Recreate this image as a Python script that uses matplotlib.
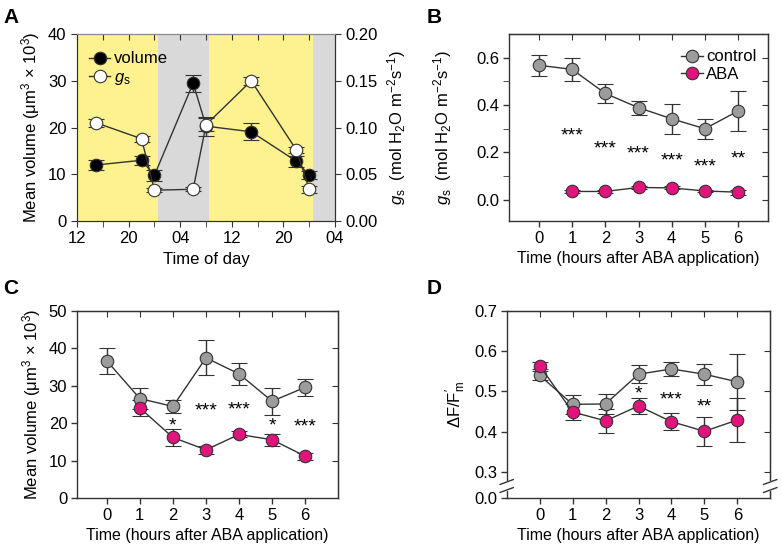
import matplotlib
matplotlib.use("Agg")
import matplotlib.pyplot as plt
import matplotlib.transforms as mtransforms
from matplotlib.lines import Line2D

plt.rcParams["font.family"] = ["Liberation Sans", "DejaVu Sans"]
plt.rcParams["font.size"] = 12
plt.rcParams["mathtext.fontset"] = "custom"
plt.rcParams["mathtext.rm"] = "Liberation Sans"
plt.rcParams["mathtext.it"] = "Liberation Sans:italic"
plt.rcParams["mathtext.default"] = "regular"

# --- A: dnevni tok ---
hrs_a = [15, 22, 24, 30, 32, 39, 46, 48]
vol_a = [12.0, 13.0, 9.8, 29.5, 20.3, 19.1, 12.8, 9.8]
vol_a_err = [1.0, 1.0, 1.2, 1.8, 2.0, 1.8, 1.2, 0.8]
gs_a = [0.105, 0.088, 0.033, 0.034, 0.103, 0.150, 0.076, 0.034]
gs_a_err = [0.004, 0.003, 0.002, 0.002, 0.007, 0.004, 0.003, 0.004]
period_start = [12, 24.5, 32.5, 48.5]
period_end = [24.5, 32.5, 48.5, 52]
period_kind = ["day", "night", "day", "night"]
hour_ticks = [12, 20, 28, 36, 44, 52]
hour_labels = ["12", "20", "04", "12", "20", "04"]

# --- B, C, D: sati nakon ABA ---
t = [0, 1, 2, 3, 4, 5, 6]
t_aba = [1, 2, 3, 4, 5, 6]

gs_ctrl = [0.568, 0.551, 0.449, 0.389, 0.342, 0.300, 0.375]
gs_ctrl_err = [0.045, 0.048, 0.040, 0.030, 0.063, 0.042, 0.083]
gs_aba = [0.035, 0.035, 0.052, 0.050, 0.037, 0.032]
gs_aba_err = [0.005, 0.005, 0.006, 0.006, 0.005, 0.010]
stars_b_t = [1, 2, 3, 4, 5, 6]
stars_b = ["***", "***", "***", "***", "***", "**"]
stars_b_y = [0.285, 0.233, 0.21, 0.18, 0.155, 0.19]

vol_ctrl = [36.7, 26.6, 24.5, 37.5, 33.2, 25.9, 29.6]
vol_ctrl_err = [3.4, 2.8, 1.8, 4.7, 3.0, 3.6, 2.2]
vol_aba = [24.1, 16.2, 12.9, 17.0, 15.6, 11.2]
vol_aba_err = [2.2, 2.3, 1.0, 0.8, 1.6, 0.9]
stars_c_t = [2, 3, 4, 5, 6]
stars_c = ["*", "***", "***", "*", "***"]
stars_c_y = [20.5, 24.5, 24.8, 20.3, 20.0]

phi_ctrl = [0.540, 0.468, 0.469, 0.543, 0.556, 0.543, 0.524]
phi_ctrl_err = [0.011, 0.023, 0.026, 0.022, 0.017, 0.026, 0.069]
phi_aba = [0.564, 0.449, 0.427, 0.464, 0.425, 0.401, 0.429]
phi_aba_err = [0.009, 0.021, 0.029, 0.021, 0.021, 0.036, 0.054]
stars_d_t = [3, 4, 5]
stars_d = ["*", "***", "**"]
stars_d_y = [0.503, 0.49, 0.471]

SPINE = "#333333"
GRAY = "#9c9c9c"
MAGENTA = "#e0147c"
YELLOW = "#fdf28f"
NIGHT = "#d9d9d9"
XLABEL = "Time (hours after ABA application)"
MS = 9


def series(ax, x, y, err, face):
    ax.errorbar(x, y, yerr=err, fmt="-o", color=SPINE, lw=1, elinewidth=1,
                capsize=6, capthick=1, ms=MS, mfc=face, mec=SPINE, mew=0.8,
                zorder=3)


def handle(face):
    return Line2D([], [], color=SPINE, lw=1, marker="o", ms=MS,
                  mfc=face, mec=SPINE, mew=0.8)


def stars(ax, xs, labels, ys):
    # asterisci sjede visoko u glifu, pa ih malo spustimo (offset u pt)
    for x, s, y in zip(xs, labels, ys):
        ax.annotate(s, (x, y), xytext=(0, -3), textcoords="offset points",
                    ha="center", va="center", fontsize=14)


def frame(ax, xlim):
    for s in ax.spines.values():
        s.set_color(SPINE)
        s.set_linewidth(1)
    ax.tick_params(direction="out", length=4, color=SPINE, width=1, pad=3)
    ax.set_xlim(*xlim)
    ax.set_xticks(t)
    ax.set_xlabel(XLABEL, labelpad=4, fontsize=11.5)
    top = ax.secondary_xaxis("top")
    top.set_xticks(t)
    top.tick_params(direction="in", length=4, color=SPINE, labeltop=False)
    return top


fig = plt.figure(figsize=(7.82, 5.54), dpi=100)

# ---------------- A ----------------
axA = fig.add_axes([0.0985, 0.601, 0.330, 0.3375])
for s0, s1, kind in zip(period_start, period_end, period_kind):
    axA.axvspan(s0, s1, color=YELLOW if kind == "day" else NIGHT, lw=0, zorder=0)
axA2 = axA.twinx()
series(axA, hrs_a, vol_a, vol_a_err, "black")
series(axA2, hrs_a, gs_a, gs_a_err, "white")
axA.set_xlim(12, 52)
axA.set_ylim(0, 40)
axA2.set_ylim(0, 0.2)
axA.set_xticks(hour_ticks)
axA.set_xticklabels(hour_labels)
axA.set_xticks(range(16, 52, 8), minor=True)
axA.set_yticks([0, 10, 20, 30, 40])
axA2.set_yticks([0, 0.05, 0.10, 0.15, 0.20])
axA2.set_yticklabels(["0.00", "0.05", "0.10", "0.15", "0.20"])
for ax in (axA, axA2):
    for s in ax.spines.values():
        s.set_color(SPINE)
    ax.tick_params(which="both", direction="out", length=4, color=SPINE)
axA.spines["top"].set_color("#888888")
axA2.spines["top"].set_color("#888888")
topA = axA.secondary_xaxis("top")
topA.set_xticks(range(12, 53, 4))
topA.tick_params(direction="in", length=4, color=SPINE, labeltop=False)
topA.spines["top"].set_visible(False)
axA.set_xlabel("Time of day", labelpad=4)
axA.set_ylabel("Mean volume (μm$^3$ × 10$^3$)", labelpad=4)
axA2.set_ylabel("$\\mathit{g}_s$  (mol H$_2$O m$^{-2}$s$^{-1}$)", labelpad=5)
axA.legend([handle("black"), handle("white")], ["volume", "$\\mathit{g}_s$"],
           loc="upper left", frameon=False, handlelength=1.3,
           handletextpad=0.2, borderaxespad=0.3, labelspacing=0.2,
           bbox_to_anchor=(0.0, 0.97))

# ---------------- B ----------------
axB = fig.add_axes([0.651, 0.601, 0.331, 0.3375])
series(axB, t, gs_ctrl, gs_ctrl_err, GRAY)
series(axB, t_aba, gs_aba, gs_aba_err, MAGENTA)
stars(axB, stars_b_t, stars_b, stars_b_y)
frame(axB, (-0.9, 6.9))
axB.set_ylim(-0.09, 0.7)
axB.set_yticks([0, 0.2, 0.4, 0.6])
axB.set_yticklabels(["0.0", "0.2", "0.4", "0.6"])
axB.set_yticks([0.1, 0.3, 0.5], minor=True)
axB.tick_params(which="minor", direction="out", length=4, color=SPINE)
rB = axB.secondary_yaxis("right")
rB.set_yticks([0, 0.1, 0.2, 0.3, 0.4, 0.5, 0.6])
rB.tick_params(direction="in", length=4, color=SPINE, labelright=False)
axB.set_ylabel("$\\mathit{g}_s$  (mol H$_2$O m$^{-2}$s$^{-1}$)", labelpad=16)
axB.legend([handle(GRAY), handle(MAGENTA)], ["control", "ABA"],
           loc="upper right", frameon=False, handlelength=1.3,
           handletextpad=0.2, labelspacing=0.15, borderaxespad=0.3,
           bbox_to_anchor=(1.0, 0.98))

# ---------------- C ----------------
axC = fig.add_axes([0.0985, 0.101, 0.334, 0.3375])
series(axC, t, vol_ctrl, vol_ctrl_err, GRAY)
series(axC, t_aba, vol_aba, vol_aba_err, MAGENTA)
stars(axC, stars_c_t, stars_c, stars_c_y)
frame(axC, (-0.9, 7.0))
axC.set_ylim(0, 50)
axC.set_yticks([0, 10, 20, 30, 40, 50])
rC = axC.secondary_yaxis("right")
rC.set_yticks([10, 20, 30, 40, 50])
rC.tick_params(direction="in", length=4, color=SPINE, labelright=False)
axC.set_ylabel("Mean volume (μm$^3$ × 10$^3$)", labelpad=4)

# ---------------- D ----------------
axD = fig.add_axes([0.648, 0.101, 0.337, 0.3375])
series(axD, t, phi_ctrl, phi_ctrl_err, GRAY)
series(axD, t, phi_aba, phi_aba_err, MAGENTA)
stars(axD, stars_d_t, stars_d, stars_d_y)
frame(axD, (-1.0, 7.0))
y_bottom = 0.235
axD.set_ylim(y_bottom, 0.7)
axD.set_yticks([y_bottom, 0.3, 0.4, 0.5, 0.6, 0.7])
axD.set_yticklabels(["0.0", "0.3", "0.4", "0.5", "0.6", "0.7"])
rD = axD.secondary_yaxis("right")
rD.set_yticks([0.3, 0.4, 0.5, 0.6, 0.7])
rD.tick_params(direction="in", length=4, color=SPINE, labelright=False)
axD.set_ylabel("ΔF/F$_m^{\\prime}$", labelpad=4)
# prekid na y osi (lijevo i desno)
tr = mtransforms.blended_transform_factory(axD.transAxes, axD.transData)
for xa in (0.0, 1.0):
    axD.plot([xa, xa], [0.257, 0.273], color="white", lw=3, transform=tr,
             clip_on=False, zorder=5)
    for yb in (0.255, 0.275):
        axD.plot([xa - 0.025, xa + 0.025], [yb - 0.006, yb + 0.006],
                 color=SPINE, lw=1, transform=tr, clip_on=False, zorder=6)

# oznake panela
for lbl, x, y in [("A", 0.004, 0.985), ("B", 0.545, 0.985),
                  ("C", 0.004, 0.497), ("D", 0.545, 0.497)]:
    fig.text(x, y, lbl, fontsize=15, fontweight="bold", va="top")

plt.savefig("out.png", dpi=100)
